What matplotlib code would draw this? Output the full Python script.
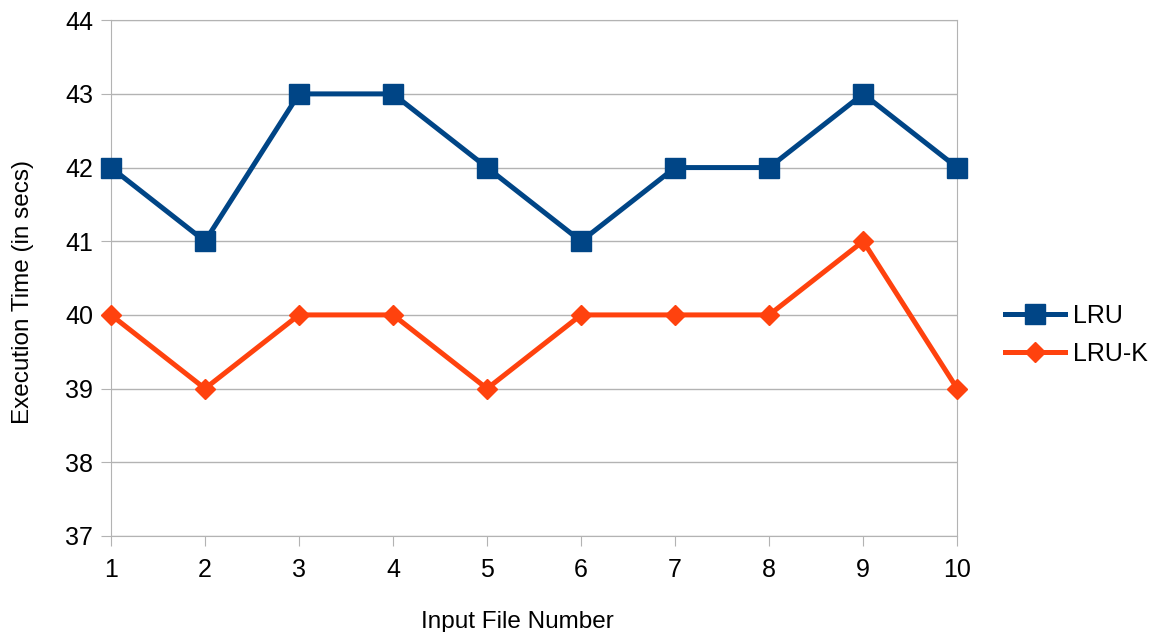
import matplotlib
matplotlib.use("Agg")
import matplotlib.pyplot as plt

plt.rcParams['font.family'] = ['Liberation Sans', 'DejaVu Sans']

# Execution times per input file
files = [1, 2, 3, 4, 5, 6, 7, 8, 9, 10]
lru = [42, 41, 43, 43, 42, 41, 42, 42, 43, 42]
lru_k = [40, 39, 40, 40, 39, 40, 40, 40, 41, 39]

fig = plt.figure(figsize=(11.56, 6.32), dpi=100)
ax = fig.add_axes([0.096, 0.152, 0.732, 0.816])

ax.plot(files, lru, color='#004586', linewidth=3.6, marker='s', markersize=14,
        label='LRU', clip_on=False, zorder=3)
ax.plot(files, lru_k, color='#ff420e', linewidth=3.6, marker='D', markersize=10,
        label='LRU-K', clip_on=False, zorder=3)

ax.set_xlim(1, 10)
ax.set_ylim(37, 44)
ax.set_xticks(files)
ax.set_yticks(range(37, 45))
ax.yaxis.grid(True, color='#b3b3b3', linewidth=1)
ax.set_axisbelow(True)
for s in ax.spines.values():
    s.set_color('#b3b3b3')
ax.tick_params(axis='both', direction='out', length=7, color='#b3b3b3', labelsize=18)
ax.tick_params(axis='x', pad=9)
ax.tick_params(axis='y', pad=6)

ax.set_xlabel('Input File Number', fontsize=17.5, labelpad=21)
ax.set_ylabel('Execution Time (in secs)', fontsize=17.5, labelpad=22)
ax.xaxis.label.set_x(0.48)
ax.yaxis.label.set_y(0.473)

ax.legend(loc='center left', bbox_to_anchor=(1.057, 0.39), frameon=False, fontsize=18,
          handlelength=2.4, handletextpad=0.3, labelspacing=0.55,
          borderaxespad=0, borderpad=0)

fig.savefig('out.png', dpi=100)
